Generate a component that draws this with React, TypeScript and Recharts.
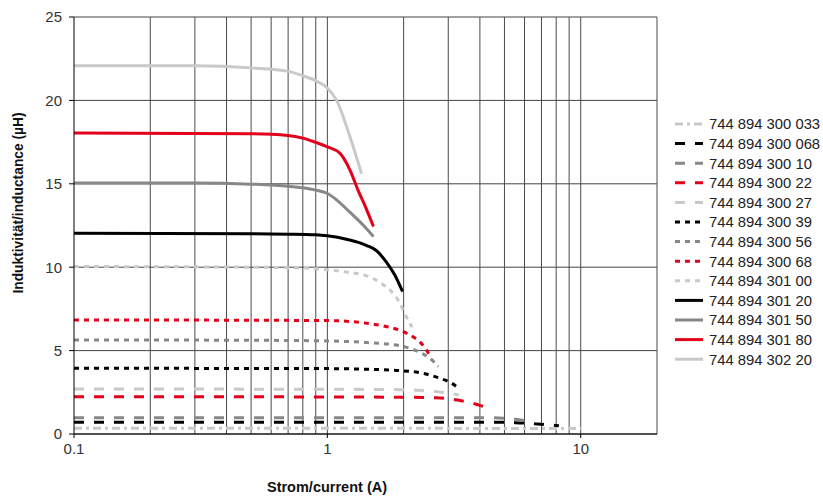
import React from 'react';
import {
  LineChart,
  Line,
  XAxis,
  YAxis,
  CartesianGrid,
  ReferenceLine,
  Legend,
} from 'recharts';

// current (A) / inductance (µH) pairs
const s300033: [number, number][] = [[0.1, 0.34], [1, 0.34], [10, 0.33]];
const s300068: [number, number][] = [[0.1, 0.7], [1, 0.7], [5, 0.7], [5.5, 0.68], [6.6, 0.61], [8.2, 0.5]];
const s30010: [number, number][] = [[0.1, 0.98], [1, 0.98], [4.5, 0.97], [5.5, 0.88], [6.5, 0.72]];
const s30022: [number, number][] = [[0.1, 2.24], [1, 2.22], [2.2, 2.2], [2.7, 2.17], [3.16, 2.07], [3.75, 1.84], [4.45, 1.48]];
const s30027: [number, number][] = [[0.1, 2.7], [1, 2.68], [1.93, 2.66], [2.24, 2.63], [2.7, 2.54], [3.3, 2.34]];
const s30039: [number, number][] = [[0.1, 3.94], [1, 3.92], [1.43, 3.88], [1.93, 3.8], [2.38, 3.64], [2.66, 3.44], [2.83, 3.3], [3.1, 3.04], [3.33, 2.68]];
const s30056: [number, number][] = [[0.1, 5.64], [0.5, 5.62], [1, 5.58], [1.43, 5.48], [1.93, 5.3], [2.17, 5.08], [2.36, 4.84], [2.54, 4.54], [2.74, 4.04]];
const s30068: [number, number][] = [[0.1, 6.84], [0.5, 6.82], [1, 6.8], [1.43, 6.64], [1.7, 6.45], [1.93, 6.22], [2.15, 5.88], [2.31, 5.54], [2.45, 5.08], [2.57, 4.55]];
const s30100: [number, number][] = [[0.1, 10.04], [0.5, 10.0], [0.8, 9.95], [1, 9.85], [1.2, 9.7], [1.47, 9.42], [1.63, 9.04], [1.77, 8.62], [1.93, 7.86], [2.02, 7.22], [2.1, 6.72], [2.16, 6.4]];
const s30120: [number, number][] = [[0.1, 12.04], [0.5, 12.0], [0.7, 11.98], [0.9, 11.94], [1, 11.88], [1.2, 11.66], [1.43, 11.3], [1.56, 11.0], [1.71, 10.3], [1.85, 9.5], [1.98, 8.54]];
const s30150: [number, number][] = [[0.1, 15.05], [0.3, 15.05], [0.5, 14.98], [0.7, 14.85], [0.9, 14.62], [1, 14.42], [1.087, 14.04], [1.227, 13.3], [1.39, 12.5], [1.52, 11.84]];
const s30180: [number, number][] = [[0.1, 18.05], [0.5, 18.0], [0.7, 17.9], [0.8, 17.74], [0.9, 17.48], [1, 17.22], [1.12, 16.84], [1.227, 15.84], [1.32, 14.64], [1.43, 13.44], [1.52, 12.44]];
const s30220: [number, number][] = [[0.1, 22.08], [0.3, 22.08], [0.5, 21.95], [0.7, 21.74], [0.8, 21.48], [0.9, 21.18], [1, 20.74], [1.087, 20.0], [1.227, 17.84], [1.365, 15.6]];

const xTicks = [0.1, 1, 10];
const yTicks = [0, 5, 10, 15, 20, 25];
const gridX = [0.2, 0.3, 0.4, 0.5, 0.6, 0.7, 0.8, 0.9, 1, 2, 3, 4, 5, 6, 7, 8, 9, 10, 20];

const LIGHT = '#c9c9c9';
const GRAY = '#878787';
const BLACK = '#000000';
const RED = '#e2001a';
const DASH_DOT = '8 4 3 4';
const DASH = '10 10';
const DOT = '5 5';
const FONT = "'Liberation Sans', Arial, sans-serif";

const toPoints = (pairs: [number, number][]) => pairs.map(([x, y]) => ({ x, y }));

const series = [
  { name: '744 894 300 033', data: s300033, color: LIGHT, dash: DASH_DOT },
  { name: '744 894 300 068', data: s300068, color: BLACK, dash: DASH },
  { name: '744 894 300 10', data: s30010, color: GRAY, dash: DASH },
  { name: '744 894 300 22', data: s30022, color: RED, dash: DASH },
  { name: '744 894 300 27', data: s30027, color: LIGHT, dash: DASH },
  { name: '744 894 300 39', data: s30039, color: BLACK, dash: DOT },
  { name: '744 894 300 56', data: s30056, color: GRAY, dash: DOT },
  { name: '744 894 300 68', data: s30068, color: RED, dash: DOT },
  { name: '744 894 301 00', data: s30100, color: LIGHT, dash: DOT },
  { name: '744 894 301 20', data: s30120, color: BLACK, dash: undefined },
  { name: '744 894 301 50', data: s30150, color: GRAY, dash: undefined },
  { name: '744 894 301 80', data: s30180, color: RED, dash: undefined },
  { name: '744 894 302 20', data: s30220, color: LIGHT, dash: undefined },
];

function LegendBox() {
  return (
    <svg width={153} height={270} style={{ overflow: 'visible' }}>
      {series.map((s, i) => (
        <g key={s.name} transform={`translate(0, ${14 + i * 19.6})`}>
          <line x1={5} x2={33} y1={0} y2={0} stroke={s.color} strokeWidth={3} strokeDasharray={s.dash} />
          <text x={39} y={0} dy="0.36em" fontSize={14.8} fill="#222" fontFamily={FONT}>
            {s.name}
          </text>
        </g>
      ))}
    </svg>
  );
}

export default function App() {
  return (
    <div style={{ position: 'absolute', left: 0, top: 0, background: '#fff' }}>
      <LineChart width={823} height={496} margin={{ top: 17, right: 13, left: 14, bottom: 0 }}>
        <CartesianGrid vertical={false} stroke="#444" />
        {gridX.map((v) => (
          <ReferenceLine key={v} x={v} stroke="#4a4a4a" strokeWidth={1} />
        ))}
        <XAxis
          dataKey="x"
          type="number"
          scale="log"
          domain={[0.1, 20]}
          allowDataOverflow
          ticks={xTicks}
          tickFormatter={(v: number) => String(v)}
          height={62}
          tickSize={4}
          tickMargin={5}
          stroke="#000"
          tick={{ fontSize: 15, fill: '#333', fontFamily: FONT }}
          label={{
            content: ({ viewBox }: any) => (
              <text
                x={viewBox.x + 253}
                y={viewBox.y + 58}
                textAnchor="middle"
                fontSize={14.5}
                fontWeight="bold"
                fill="#111"
                fontFamily={FONT}
              >
                Strom/current (A)
              </text>
            ),
          }}
        />
        <YAxis
          type="number"
          domain={[0, 25]}
          ticks={yTicks}
          width={60}
          tickSize={5}
          tickMargin={7}
          stroke="#000"
          tick={{ fontSize: 15, fill: '#333', fontFamily: FONT }}
          label={{
            content: ({ viewBox }: any) => (
              <text
                transform={`translate(${viewBox.x + 4}, ${viewBox.y + 186}) rotate(-90)`}
                textAnchor="middle"
                dy="0.36em"
                fontSize={13.8}
                fontWeight="bold"
                fill="#111"
                fontFamily={FONT}
              >
                Induktivität/inductance (µH)
              </text>
            ),
          }}
        />
        <Legend
          layout="vertical"
          align="right"
          verticalAlign="top"
          content={() => <LegendBox />}
          wrapperStyle={{ left: 670, top: 110, right: 'auto', width: 153, height: 270 }}
        />
        {series.map((s) => (
          <Line
            key={s.name}
            name={s.name}
            data={toPoints(s.data)}
            dataKey="y"
            type="monotone"
            stroke={s.color}
            strokeWidth={3}
            strokeDasharray={s.dash}
            dot={false}
            activeDot={false}
            isAnimationActive={false}
          />
        ))}
      </LineChart>
    </div>
  );
}
